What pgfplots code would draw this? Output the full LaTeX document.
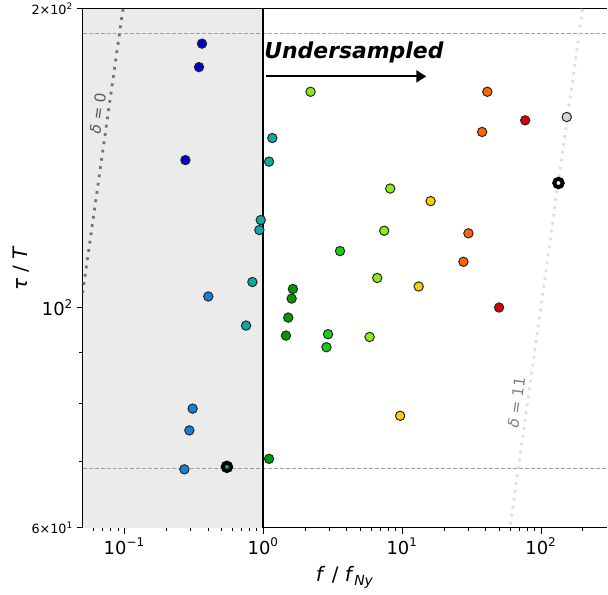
\documentclass[border=0pt]{standalone}
\usepackage{pgfplots}
\pgfplotsset{compat=1.18}
\usepackage{fontspec}
\setmainfont{DejaVu Sans}
\usetikzlibrary{arrows.meta}

\definecolor{cDB}{HTML}{0000CC}
\definecolor{cB}{HTML}{1580DC}
\definecolor{cT}{HTML}{10A8A0}
\definecolor{cG}{HTML}{009A00}
\definecolor{cBG}{HTML}{11D011}
\definecolor{cYG}{HTML}{88EE11}
\definecolor{cY}{HTML}{F5D000}
\definecolor{cO}{HTML}{FF6600}
\definecolor{cR}{HTML}{DD0000}
\definecolor{cGr}{HTML}{D3D3D3}
\definecolor{shade}{HTML}{EBEBEB}

\begin{document}
\begin{tikzpicture}
\begin{axis}[
  scale only axis,
  width=263.5pt, height=260.5pt,
  xmode=log, ymode=log,
  xmin=0.05, xmax=300, ymin=60, ymax=200,
  axis y line*=left,
  xtick pos=left,
  tick align=outside,
  xtick={0.1,1,10,100},
  xticklabels={10\textsuperscript{−1},10\textsuperscript{0},10\textsuperscript{1},10\textsuperscript{2}},
  minor xtick={0.06,0.07,0.08,0.09,0.2,0.3,0.4,0.5,0.6,0.7,0.8,0.9,2,3,4,5,6,7,8,9,20,30,40,50,60,70,80,90,200},
  ytick={60,100,200},
  yticklabels={{\fontsize{6.4}{7}\selectfont 6×10\textsuperscript{1}},{10\textsuperscript{2}},{\fontsize{6.4}{7}\selectfont 2×10\textsuperscript{2}}},
  minor ytick={70,80,90},
  major tick length=3pt, minor tick length=1.8pt,
  every tick/.style={black, line width=0.5pt},
  tick label style={font=\fontsize{9}{10}\selectfont},
  yticklabel style={inner sep=1.5pt},
  xticklabel style={inner sep=2pt},
  axis line style={line width=0.6pt},
  label style={font=\fontsize{14}{16}\selectfont, inner sep=0pt},
  every axis y label/.style={at={(axis description cs:0,0.5)}, xshift=-31pt, rotate=90, anchor=center},
  every axis x label/.style={at={(axis description cs:0.5,0)}, yshift=-25pt, anchor=center},
  xlabel={\textit{f} / \textit{f}\textsubscript{\textit{Ny}}},
  ylabel={\textit{τ} / \textit{T}},
]

% undersampled-free region
\addplot[fill=shade, draw=none] coordinates {(0.05,60) (1,60) (1,200) (0.05,200)} -- cycle;

% reference lines
\addplot[gray!75, line width=0.5pt, dash pattern=on 2pt off 1pt] coordinates {(0.05,188.8) (300,188.8)};
\addplot[gray!75, line width=0.5pt, dash pattern=on 2pt off 1pt] coordinates {(0.05,68.9) (300,68.9)};
\addplot[black, line width=1pt] coordinates {(1,60) (1,200)};

% delta lines
\addplot[black!55, line width=1.4pt, dash pattern=on 1.4pt off 2.8pt] coordinates {(0.0976,200) (0.05,103.5)};
\addplot[black!13, line width=1.4pt, dash pattern=on 1.4pt off 2.6pt] coordinates {(199,200) (59.7,60)};
\node[text=black!65, rotate=82, font=\fontsize{7.6}{9}\selectfont] at (axis cs:0.0643,156.9) {\textit{δ} = 0};
\node[text=black!50, rotate=82, font=\fontsize{7.6}{9}\selectfont] at (axis cs:66.4,80.2) {\textit{δ} = 11};

% annotation
\node[anchor=base west, inner sep=0pt, font=\fontsize{11}{13}\selectfont] at (axis cs:1.01,178.2) {\textbf{\textit{Undersampled}}};
\addplot[black, line width=1pt, -{Triangle[length=5pt,width=6pt]}] coordinates {(1.04,171) (14.9,171)};

% data
\pgfplotsset{dot/.style={only marks, mark=*, mark size=2.35pt, line width=0.5pt, draw=black!85, fill=#1}}
\addplot[dot=cDB] coordinates {(0.3617,184.5) (0.3443,174.7) (0.2747,140.8)};
\addplot[dot=cB] coordinates {(0.4015,102.6) (0.3097,79.1) (0.2934,75.2) (0.2701,68.7)};
\addplot[dot=cT] coordinates {(1.160,148.2) (1.099,140.3) (0.958,122.5) (0.936,119.7) (0.834,106.1) (0.751,95.9)};
\addplot[dot=cG] coordinates {(1.099,70.4) (1.633,104.4) (1.598,102.1) (1.511,97.7) (1.455,93.7)};
\addplot[dot=cBG] coordinates {(2.924,94.0) (2.848,91.2) (3.565,114.0)};
\addplot[dot=cYG] coordinates {(2.187,165.0) (8.19,131.8) (7.42,119.5) (6.61,107.1) (5.82,93.4)};
\addplot[dot=cY] coordinates {(16.0,128.0) (13.13,105.0) (9.66,77.8)};
\addplot[dot=cO] coordinates {(41.0,165.0) (37.6,150.3) (29.97,118.8) (27.6,111.2)};
\addplot[dot=cR] coordinates {(76.8,154.4) (49.8,100.0)};
\addplot[dot=cGr] coordinates {(152.9,155.6)};

% highlighted points
\addplot[only marks, mark=*, mark size=2.1pt, line width=2pt, draw=black, fill=cT] coordinates {(0.5465,69.1)};
\addplot[only marks, mark=*, mark size=2.1pt, line width=2pt, draw=black, fill=white] coordinates {(133.3,133.5)};

\end{axis}
% keep the white margins of the original figure
\path ([xshift=-41.5pt, yshift=-33pt]current axis.south west) ([yshift=4pt]current axis.north east);
\end{tikzpicture}
\end{document}
